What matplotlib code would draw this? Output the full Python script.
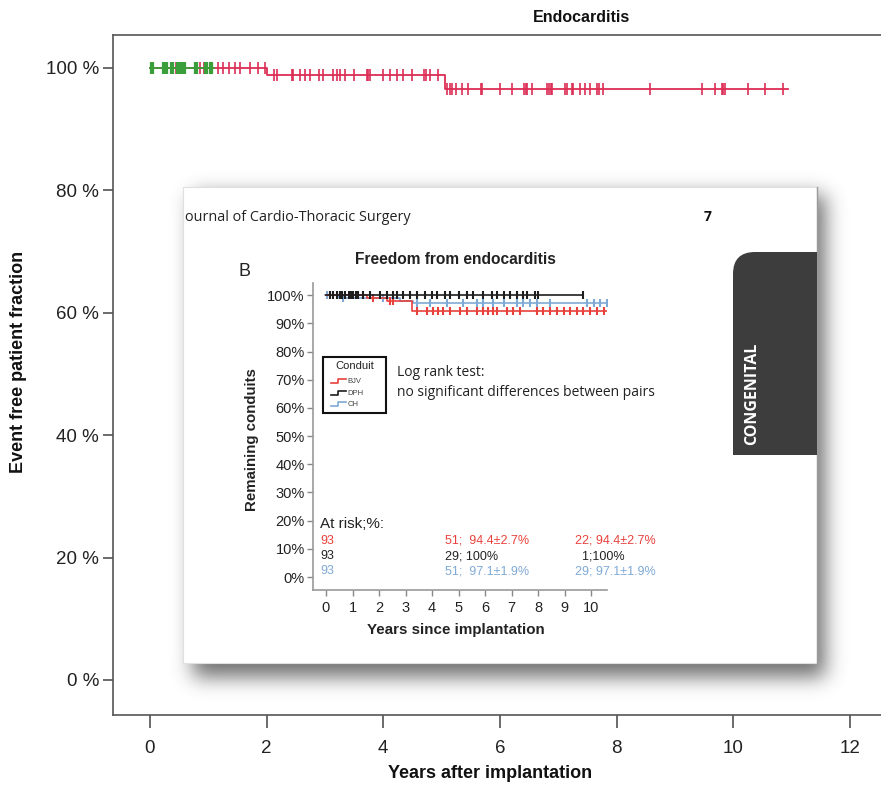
import numpy as np
import matplotlib
matplotlib.use("Agg")
import matplotlib.pyplot as plt
from matplotlib.patches import Rectangle, PathPatch
from matplotlib.path import Path

W, H = 881, 789
plt.rcParams['font.family'] = ['Liberation Sans', 'DejaVu Sans']

# ---- main chart data (event free %, years) ----
red_t = [0.0, 2.0, 5.06, 10.94]
red_s = [100.0, 98.9, 96.6, 96.6]
red_cens = [0.45, 0.86, 0.92, 0.98, 1.05, 1.17, 1.26, 1.35, 1.46, 1.54, 1.71, 1.86, 1.97,
            2.12, 2.17, 2.43, 2.46, 2.57, 2.66, 2.74, 2.89, 2.97, 3.14, 3.2, 3.26, 3.34,
            3.49, 3.72, 3.74, 3.77, 4.0, 4.12, 4.23, 4.34, 4.49, 4.69, 4.74, 4.8, 4.94,
            5.1, 5.14, 5.18, 5.24, 5.35, 5.46, 5.68, 5.7, 6.0, 6.2, 6.42, 6.44, 6.46, 6.55,
            6.8, 6.84, 6.87, 6.9, 7.12, 7.15, 7.24, 7.26, 7.38, 7.46, 7.55, 7.67, 7.69,
            7.77, 8.58, 9.46, 9.69, 9.8, 9.83, 9.86, 10.26, 10.55, 10.86]
green_t = [0.0, 1.1]
green_s = [100.0, 100.0]
green_cens = [0.02, 0.05, 0.22, 0.26, 0.3, 0.36, 0.4, 0.47, 0.5, 0.53, 0.56, 0.6,
              0.77, 0.8, 0.94, 0.98, 1.03, 1.07]
main_xticks = [0, 2, 4, 6, 8, 10, 12]
main_yticks = [0, 20, 40, 60, 80, 100]

# ---- inset chart data ----
bjv_t = [0.0, 1.53, 2.3, 3.25, 10.72]
bjv_s = [100.0, 98.9, 97.8, 94.4, 94.4]
bjv_cens = [1.79, 2.42, 2.54, 3.42, 3.8, 4.05, 4.24, 4.43, 4.68, 5.06, 5.31, 5.69, 5.94,
            6.13, 6.31, 6.44, 6.82, 7.07, 7.32, 7.96, 8.2, 8.45, 8.7, 8.96, 9.21, 9.46,
            9.71, 9.97, 10.22, 10.47, 10.72]
dph_t = [0.0, 9.71]
dph_s = [100.0, 100.0]
dph_cens = [0.15, 0.28, 0.4, 0.53, 0.62, 0.72, 0.85, 0.94, 1.03, 1.12, 1.22, 1.41, 1.66,
            2.04, 2.29, 2.54, 2.67, 2.92, 3.17, 3.42, 3.74, 3.99, 4.18, 4.49, 4.68, 5.0,
            5.31, 5.56, 5.94, 6.25, 6.44, 6.7, 6.94, 7.2, 7.45, 7.57, 7.89, 8.01, 9.71]
ch_t = [-0.05, 0.5, 2.8, 3.3, 10.62]
ch_s = [100.0, 98.9, 98.0, 97.1, 97.1]
ch_cens = [0.03, 0.15, 0.4, 0.65, 2.16, 3.42, 3.92, 4.55, 5.18, 5.69, 5.94, 6.31, 6.7,
           7.2, 7.45, 7.7, 7.96, 8.45, 9.84, 10.1, 10.35, 10.6]
groups = ['BJV', 'DPH', 'CH']
colors = {'BJV': '#e8413c', 'DPH': '#1e1e1e', 'CH': '#7fa9d6'}
risk_rows = {'BJV': ['93', '51;  94.4±2.7%', '22; 94.4±2.7%'],
             'DPH': ['93', '29; 100%', '  1;100%'],
             'CH': ['93', '51;  97.1±1.9%', '29; 97.1±1.9%']}
risk_cols = [-0.23, 4.5, 9.4]
risk_y = [12.8, 7.4, 2.1]
inner_xticks = list(range(0, 11))
inner_yticks = list(range(0, 101, 10))


def surv_at(t, s, x):
    i = np.searchsorted(np.asarray(t), np.asarray(x), side='right') - 1
    return np.asarray(s)[np.clip(i, 0, len(s) - 1)]


def fx(px):
    return px / W


def fy(py):
    return 1 - py / H


fig = plt.figure(figsize=(W / 100, H / 100), dpi=100)

# ---------------- main axes ----------------
ax = fig.add_axes([fx(113), fy(715), (1050 - 113) / W, (715 - 35) / H], zorder=1)
ax.set_xlim(-0.634, 15.43)
ax.set_ylim(-5.72, 105.39)
red = '#dc2d55'
green = '#3a9e3a'
ax.step(red_t, red_s, where='post', color=red, lw=1.3)
ax.plot(red_cens, surv_at(red_t, red_s, red_cens), ls='none', marker='|', ms=8, mew=1.2, color=red)
ax.step(green_t, green_s, where='post', color=green, lw=1.3)
ax.plot(green_cens, surv_at(green_t, green_s, green_cens), ls='none', marker='|', ms=8, mew=1.6, color=green)
ax.set_xticks(main_xticks)
ax.set_yticks(main_yticks)
ax.set_yticklabels([f'{v} %' for v in main_yticks])
ax.tick_params(axis='both', direction='out', length=7, width=1.1, color='#444',
               labelsize=13.5, labelcolor='#222')
ax.tick_params(axis='x', length=9, pad=9)
ax.tick_params(axis='y', pad=3)
for sp in ax.spines.values():
    sp.set_color('#555')
    sp.set_linewidth(1.2)

fig.text(fx(581), fy(18), 'Endocarditis', ha='center', va='center', fontsize=11.5, fontweight='bold', color='#111')
fig.text(fx(490), fy(773), 'Years after implantation', ha='center', va='center', fontsize=13, fontweight='bold', color='#111')
fig.text(fx(19), fy(362), 'Event free patient fraction', ha='center', va='center', rotation=90,
         fontsize=13, fontweight='bold', color='#111')

# ---------------- overlay (pasted page) ----------------
ov = fig.add_axes([0, 0, 1, 1], zorder=5)
ov.set_xlim(0, W)
ov.set_ylim(H, 0)
ov.axis('off')
ov.patch.set_alpha(0)

bx0, by0, bx1, by1 = 183, 187, 817, 663
mask = np.zeros((H, W))
mask[by0 + 8:by1 + 14, bx0 + 10:bx1 + 8] = 1.0
sig = 10
k = np.exp(-0.5 * (np.arange(-3 * sig, 3 * sig + 1) / sig) ** 2)
k /= k.sum()
mask = np.apply_along_axis(lambda r: np.convolve(r, k, mode='same'), 0, mask)
mask = np.apply_along_axis(lambda r: np.convolve(r, k, mode='same'), 1, mask)
rgba = np.zeros((H, W, 4))
rgba[..., :3] = 0.25
rgba[..., 3] = mask * 0.75
ov.imshow(rgba, extent=(0, W, H, 0), interpolation='bilinear', zorder=1)
ov.add_patch(Rectangle((bx0, by0), bx1 - bx0, by1 - by0, facecolor='white',
                       edgecolor='#e0e0e0', lw=0.8, zorder=2))
ov.plot([bx1, bx1], [by0, by1], color='#9a9a9a', lw=1.0, zorder=3)

# dark side tab
tx0, ty0, ty1, r = 733, 252, 455, 22
verts = [(tx0, ty1), (tx0, ty0 + r), (tx0, ty0), (tx0 + r, ty0), (bx1, ty0), (bx1, ty1), (tx0, ty1)]
codes = [Path.MOVETO, Path.LINETO, Path.CURVE3, Path.CURVE3, Path.LINETO, Path.LINETO, Path.CLOSEPOLY]
ov.add_patch(PathPatch(Path(verts, codes), facecolor='#3d3d3d', edgecolor='none', zorder=3))
ov.text(752, 394, 'CONGENITAL', rotation=90, ha='center', va='center', color='white',
        fontsize=11.5, fontweight='bold', family='Open Sans', zorder=4)

ov.text(185, 217, 'ournal of Cardio-Thoracic Surgery', ha='left', va='center', fontsize=10.4,
        family='Open Sans', color='#222', zorder=4)
ov.text(708, 217, '7', ha='center', va='center', fontsize=10, fontweight='bold',
        family='Open Sans', color='#111', zorder=4)
ov.text(244, 272, 'B', ha='center', va='center', fontsize=13, color='#222', zorder=4)
ov.text(455, 260, 'Freedom from endocarditis', ha='center', va='center', fontsize=11.2,
        fontweight='bold', color='#222', zorder=4)
ov.text(252, 440, 'Remaining conduits', ha='center', va='center', rotation=90, fontsize=10.8,
        fontweight='bold', color='#222', zorder=4)
ov.text(456, 630, 'Years since implantation', ha='center', va='center', fontsize=10.9,
        fontweight='bold', color='#222', zorder=4)

# ---------------- inner chart ----------------
ia = fig.add_axes([fx(313), fy(590), 294 / W, 307 / H], zorder=6)
ia.patch.set_alpha(0)
ia.set_xlim(-0.49, 10.6)
ia.set_ylim(-4.6, 104.3)
series = {'BJV': (bjv_t, bjv_s, bjv_cens), 'DPH': (dph_t, dph_s, dph_cens), 'CH': (ch_t, ch_s, ch_cens)}
for g in ['CH', 'BJV', 'DPH']:
    t, s, c = series[g]
    ia.step(t, s, where='post', color=colors[g], lw=1.2)
    ia.plot(c, surv_at(t, s, c), ls='none', marker='|', ms=6, mew=1.5, color=colors[g])
ia.set_xticks(inner_xticks)
ia.set_yticks(inner_yticks)
ia.set_yticklabels([f'{v}%' for v in inner_yticks])
ia.tick_params(axis='both', direction='out', length=4, width=1.0, color='#888',
               labelsize=10.5, labelcolor='#222', pad=2)
ia.tick_params(axis='x', pad=4)
for side in ['top', 'right']:
    ia.spines[side].set_visible(False)
for side in ['left', 'bottom']:
    ia.spines[side].set_color('#999')
    ia.spines[side].set_linewidth(1.2)

# legend box
ia.add_patch(Rectangle((-0.11, 58.2), 2.37, 19.8, facecolor='white', edgecolor='#111', lw=1.5))
ia.text(1.07, 74.8, 'Conduit', ha='center', va='center', fontsize=8, color='#222')
for g, yy in zip(groups, [69.5, 65.2, 61.3]):
    ia.plot([0.19, 0.47, 0.47, 0.75], [yy - 0.8, yy - 0.8, yy + 0.8, yy + 0.8], color=colors[g], lw=1.2)
    ia.text(0.8, yy, g, ha='left', va='center', fontsize=5.5, color='#444')
ia.text(2.68, 72.7, 'Log rank test:', ha='left', va='center', fontsize=10, family='Open Sans', color='#222')
ia.text(2.68, 65.6, 'no significant differences between pairs', ha='left', va='center', fontsize=10,
        family='Open Sans', color='#222')

# at-risk table
ia.text(-0.23, 18.8, 'At risk;%:', ha='left', va='center', fontsize=11, color='#222')
for g, yy in zip(groups, risk_y):
    for xx, txt in zip(risk_cols, risk_rows[g]):
        ia.text(xx, yy, txt, ha='left', va='center', fontsize=9,
                color=colors[g] if g != 'DPH' else '#222')

fig.savefig('out.png', dpi=100)
